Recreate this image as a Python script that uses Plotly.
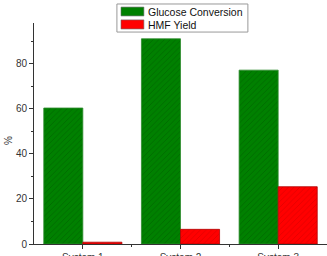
import plotly.graph_objects as go

categories = ["System 1", "System 2", "System 3"]
glucose_conversion = [60.3, 91.0, 77.1]
hmf_yield = [0.8, 6.5, 25.4]
y_ticks = [0, 20, 40, 60, 80]
series_names = ["Glucose Conversion", "HMF Yield"]
series_colors = ["#008000", "#ff0000"]

xpos = list(range(len(categories)))

fig = go.Figure()
fig.add_trace(go.Bar(
    x=xpos, y=glucose_conversion, name=series_names[0],
    marker=dict(color=series_colors[0], line=dict(color="#2e8b2e", width=0.8),
                pattern=dict(shape="/", fillmode="overlay", fgcolor="#005000",
                             size=4, solidity=0.2)),
))
fig.add_trace(go.Bar(
    x=xpos, y=hmf_yield, name=series_names[1],
    marker=dict(color=series_colors[1], line=dict(color="#b00000", width=0.8),
                pattern=dict(shape="/", fillmode="overlay", fgcolor="#c00000",
                             size=4, solidity=0.2)),
))

# manual legend (Origin-style wide swatches)
shapes = [dict(type="rect", xref="paper", yref="paper", x0=0.283, x1=0.730,
               y0=0.959, y1=1.086, line=dict(color="#999", width=1), fillcolor="white",
               layer="above")]
annotations = []
rows = [(1.072, 1.032, 1.052), (1.014, 0.973, 0.993)]
for (y1, y0, yc), name, col in zip(rows, series_names, series_colors):
    shapes.append(dict(type="rect", xref="paper", yref="paper", x0=0.297, x1=0.375,
                       y0=y0, y1=y1, line=dict(color="#666", width=0.6), fillcolor=col,
                       layer="above"))
    annotations.append(dict(text=name, xref="paper", yref="paper", x=0.382, y=yc,
                            xanchor="left", yanchor="middle", showarrow=False,
                            font=dict(size=10.5, color="#111")))
annotations.append(dict(text="%", xref="paper", yref="paper", x=-0.089, y=0.47,
                        showarrow=False, textangle=-90, font=dict(size=10, color="#333"),
                        xanchor="center", yanchor="middle"))

fig.update_layout(
    template="none",
    width=327, height=256,
    margin=dict(l=34, r=0, t=23, b=12, autoexpand=False),
    barmode="group", bargap=0.2, bargroupgap=0,
    paper_bgcolor="white", plot_bgcolor="white",
    font=dict(family="Liberation Sans, Arial, sans-serif", size=10, color="#333"),
    showlegend=False,
    xaxis=dict(range=[-0.5, 2.5], tickvals=xpos, ticktext=categories,
               showgrid=False, zeroline=False, showline=True, linecolor="#333",
               linewidth=1, ticks="outside", ticklen=4, tickcolor="#333",
               minor=dict(tickvals=[0.5, 1.5], ticks="outside", ticklen=2, tickcolor="#333"),
               automargin=False, tickfont=dict(size=10)),
    yaxis=dict(range=[0, 98], tickvals=y_ticks, showgrid=False, zeroline=False,
               showline=True, linecolor="#333", linewidth=1, ticks="outside",
               ticklen=4, tickcolor="#333",
               minor=dict(dtick=10, ticks="outside", ticklen=2, tickcolor="#333"),
               automargin=False, tickfont=dict(size=10)),
    shapes=shapes,
    annotations=annotations,
)

fig.write_html("out.html")
